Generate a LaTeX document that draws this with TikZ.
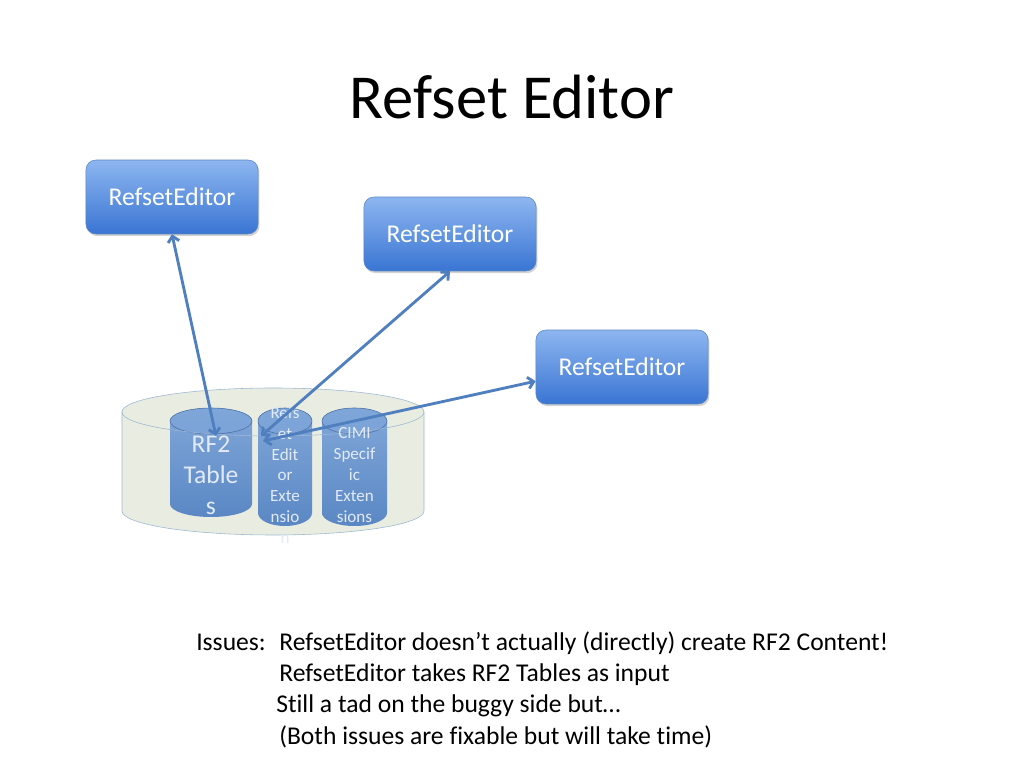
\documentclass[tikz,border=0pt]{standalone}
\usepackage{fontspec}
\setmainfont[Ligatures=NoCommon]{Carlito}
\usetikzlibrary{arrows.meta,shadows}
\definecolor{boxtop}{HTML}{8DB6F0}
\definecolor{boxbot}{HTML}{3A75D3}
\definecolor{boxline}{HTML}{5A86C4}
\definecolor{arrowblue}{HTML}{4F7FBF}
\definecolor{dbfill}{HTML}{E9ECE1}
\definecolor{dbline}{HTML}{9CB7D2}
\definecolor{cyltop}{HTML}{76A0D8}
\definecolor{cylbot}{HTML}{4B7DC2}
\definecolor{cylcap}{HTML}{7FA6DA}
\definecolor{cylline}{HTML}{4A6FA5}
\definecolor{cyltext}{HTML}{E2EAF5}
\begin{document}
\begin{tikzpicture}[
  x=0.7031pt, y=0.7031pt,
  editor/.style={rounded corners=7pt, draw=boxline, top color=boxtop, bottom color=boxbot,
    text=white, font=\fontsize{18}{21.6}\selectfont, minimum width=121pt, minimum height=52pt,
    drop shadow={shadow xshift=1pt, shadow yshift=-1.5pt, opacity=0.35}},
  link/.style={draw=arrowblue, line width=2pt, {Straight Barb[length=4pt,width=8pt]}-{Straight Barb[length=4pt,width=8pt]}},
  cyl/.style={top color=cyltop, bottom color=cylbot, fill opacity=0.9},
  cyllabel/.style={text=cyltext, align=center, inner sep=0pt},
  issue/.style={anchor=base west, inner sep=0pt, font=\fontsize{18}{21.6}\selectfont}
]
  \useasboundingbox (0,0) rectangle (1024,768);

  \node[font=\fontsize{44}{52}\selectfont] (title) at (512,671) {Refset Editor};

  \node[editor] (ed1) at (172,571) {RefsetEditor};
  \node[editor] (ed2) at (450,534) {RefsetEditor};
  \node[editor] (ed3) at (622,401) {RefsetEditor};

  % database cylinder
  \fill[dbfill] (122,356) -- (122,257) arc[start angle=180, end angle=360, x radius=151, y radius=24]
    -- (424,356) arc[start angle=0, end angle=180, x radius=151, y radius=24] -- cycle;
  \draw[dbline] (122,356) -- (122,257) arc[start angle=180, end angle=360, x radius=151, y radius=24] -- (424,356)
    arc[start angle=0, end angle=180, x radius=151, y radius=24];

  % tables inside
  \foreach \cx/\rx/\by in {211/41/264, 285/27/255, 354.5/32.5/255} {
    \path[cyl] (\cx-\rx,347) -- (\cx-\rx,\by) arc[start angle=180, end angle=360, x radius=\rx, y radius=13]
      -- (\cx+\rx,347) arc[start angle=0, end angle=180, x radius=\rx, y radius=13] -- cycle;
    \draw[cylline, line width=0.4pt, fill=cylcap, fill opacity=0.6] (\cx,347) ellipse[x radius=\rx, y radius=13];
  }
  \draw[dbline] (122,356) arc[start angle=180, end angle=360, x radius=151, y radius=24];

  \node[cyllabel, font=\fontsize{18}{21.8}\selectfont] (rf2) at (211,293) {RF2\\Table\\s};
  \node[cyllabel, font=\fontsize{12}{14.6}\selectfont] (refext) at (285,293) {Refs\\et\\Edit\\or\\Exte\\nsio\\n};
  \node[cyllabel, font=\fontsize{12}{14.6}\selectfont] (cimi) at (354.5,293) {CIMI\\Specif\\ic\\Exten\\sions};

  \coordinate (rf2top) at (216,332);
  \coordinate (extA) at (261,332);
  \coordinate (extB) at (263,327);
  \draw[link] (ed1.south) -- (rf2top);
  \draw[link] (ed2.south) -- (extA);
  \draw[link] ([yshift=-10pt]ed3.west) -- (extB);

  \node[issue] (iss1) at (196,117) {\makebox[58.4pt][l]{Issues:}RefsetEditor doesn’t actually (directly) create RF2 Content!};
  \node[issue] (iss2) at (279,86) {RefsetEditor takes RF2 Tables as input};
  \node[issue] (iss3) at (276,55) {Still a tad on the buggy side but…};
  \node[issue] (iss4) at (279,24) {(Both issues are fixable but will take time)};
\end{tikzpicture}
\end{document}
